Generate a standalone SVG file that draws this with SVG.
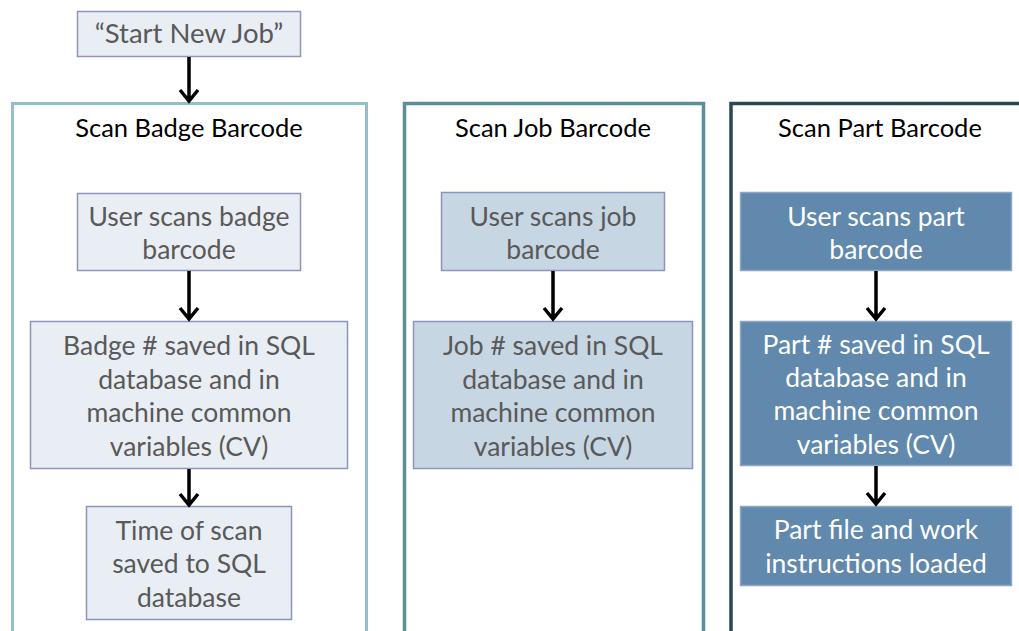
<svg xmlns="http://www.w3.org/2000/svg" width="1019" height="631" viewBox="0 0 1019 631">
<style>
text{font-family:Lato,"Open Sans","Liberation Sans",sans-serif;font-size:26.5px;text-anchor:middle}
.t{fill:#000;font-size:25.5px}
.g{fill:#595959}
.w{fill:#fff}
.b1{fill:#e9eef4;stroke:#8e95bd;stroke-width:1.5}
.b2{fill:#c6d6e3;stroke:#8e95bd;stroke-width:1.5}
.b3{fill:#6089ad;stroke:#8ea6c4;stroke-width:1.5}
</style>
<rect width="1019" height="631" fill="#fff"/>
<g id="panel-badge">
<rect x="12.5" y="103.5" width="354" height="540" fill="#fff" stroke="#93bfc8" stroke-width="3"/>
<text class="t" x="189" y="137">Scan Badge Barcode</text>
</g>
<g id="panel-job">
<rect x="404.5" y="103.5" width="299" height="540" fill="#fff" stroke="#5a8e99" stroke-width="3.5"/>
<text class="t" x="553" y="137">Scan Job Barcode</text>
</g>
<g id="panel-part">
<rect x="731" y="103.5" width="310" height="540" fill="#fff" stroke="#2a4850" stroke-width="3.5"/>
<text class="t" x="880" y="137">Scan Part Barcode</text>
</g>
<g id="start">
<rect class="b1" x="77.5" y="11.5" width="223" height="45"/>
<text class="g" x="189" y="43" style="font-size:27.5px">“Start New Job”</text>
</g>
<g id="badge-scan">
<rect class="b1" x="77.5" y="193.5" width="223" height="77"/>
<text class="g" x="189" y="226">User scans badge</text>
<text class="g" x="189" y="259">barcode</text>
</g>
<g id="badge-saved">
<rect class="b1" x="30.5" y="321.5" width="317" height="147"/>
<text class="g" x="189" y="355">Badge # saved in SQL</text>
<text class="g" x="189" y="389">database and in</text>
<text class="g" x="189" y="422">machine common</text>
<text class="g" x="189" y="456">variables (CV)</text>
</g>
<g id="badge-time">
<rect class="b1" x="86.5" y="506.5" width="205" height="113"/>
<text class="g" x="189" y="540">Time of scan</text>
<text class="g" x="189" y="573">saved to SQL</text>
<text class="g" x="189" y="607">database</text>
</g>
<g id="job-scan">
<rect class="b2" x="441.5" y="192.5" width="223" height="78"/>
<text class="g" x="553" y="226">User scans job</text>
<text class="g" x="553" y="259">barcode</text>
</g>
<g id="job-saved">
<rect class="b2" x="413.5" y="321.5" width="279" height="147"/>
<text class="g" x="553" y="355">Job # saved in SQL</text>
<text class="g" x="553" y="389">database and in</text>
<text class="g" x="553" y="422">machine common</text>
<text class="g" x="553" y="456">variables (CV)</text>
</g>
<g id="part-scan">
<rect class="b3" x="740.5" y="192.5" width="271" height="78"/>
<text class="w" x="876" y="226">User scans part</text>
<text class="w" x="876" y="259">barcode</text>
</g>
<g id="part-saved">
<rect class="b3" x="740.5" y="321.5" width="271" height="144"/>
<text class="w" x="876" y="354">Part # saved in SQL</text>
<text class="w" x="876" y="387">database and in</text>
<text class="w" x="876" y="420">machine common</text>
<text class="w" x="876" y="454">variables (CV)</text>
</g>
<g id="part-loaded">
<rect class="b3" x="740.5" y="506.5" width="271" height="79"/>
<text class="w" x="876" y="539">Part file and work</text>
<text class="w" x="876" y="573">instructions loaded</text>
</g>
<g id="connectors" stroke="#000" stroke-width="3.5" fill="none" stroke-linecap="butt">
<path d="M189 57V101M180 90L189 101L198 90"/>
<path d="M189 271V319M180 308L189 319L198 308"/>
<path d="M189 469V505M180 494L189 505L198 494"/>
<path d="M553 271V319M544 308L553 319L562 308"/>
<path d="M876 271V319M867 308L876 319L885 308"/>
<path d="M876 466V504M867 493L876 504L885 493"/>
</g>
</svg>
